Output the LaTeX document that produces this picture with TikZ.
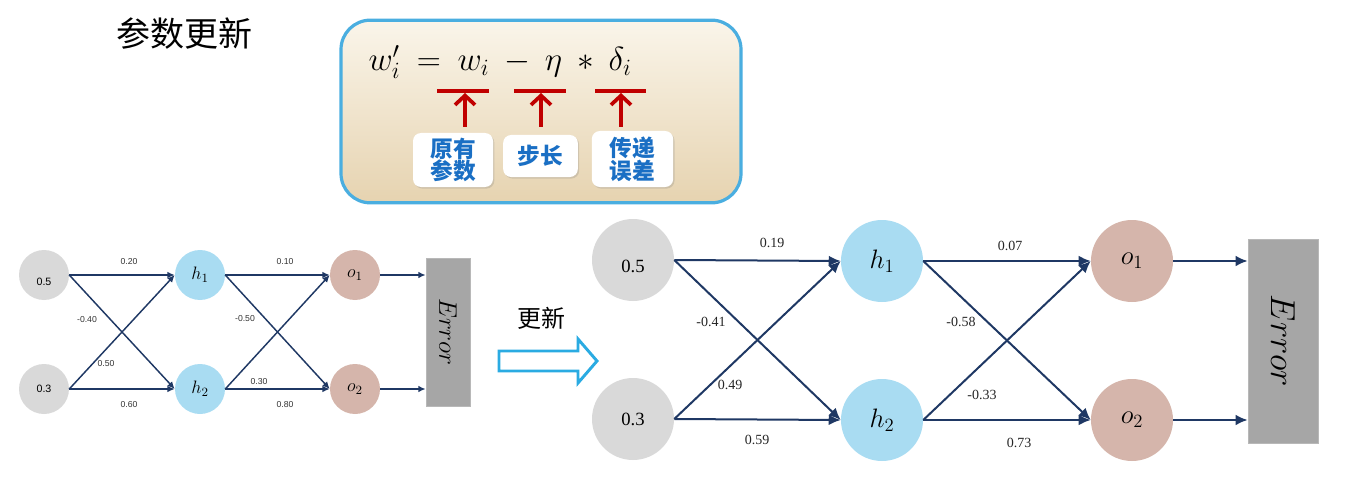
\RequirePackage{fix-cm}
\documentclass[tikz,border=0pt]{standalone}
\usepackage{fontspec}
\setsansfont{Liberation Sans}
\newfontfamily\cjk{Noto Sans CJK SC}
\newfontfamily\serifnum{Liberation Serif}
\usetikzlibrary{arrows.meta,shadows}
\definecolor{navy}{HTML}{1F3864}
\definecolor{gin}{HTML}{D9D9D9}
\definecolor{hid}{HTML}{A9DCF2}
\definecolor{outc}{HTML}{D5B5AB}
\definecolor{errc}{HTML}{A6A6A6}
\definecolor{boxborder}{HTML}{4AAEE0}
\definecolor{cyanA}{HTML}{2AABE2}
\definecolor{redc}{HTML}{C00000}
\definecolor{lblue}{HTML}{1A6FC4}
\definecolor{creamtop}{HTML}{FAF5EA}
\definecolor{tanbot}{HTML}{E6D3B0}
\tikzset{
  smallnode/.style={circle, minimum size=37.5pt, inner sep=0pt},
  bignode/.style={circle, minimum size=61.5pt, inner sep=0pt},
  edgeS/.style={draw=navy, line width=1.1pt, -{Latex[length=5.5pt,width=5pt]}},
  edgeB/.style={draw=navy, line width=1.5pt, -{Latex[length=9pt,width=8pt]}},
  wS/.style={font=\sffamily\fontsize{6.5}{7}\selectfont, text=black!80, inner sep=0pt},
  wB/.style={font=\serifnum\fontsize{10.5}{12}\selectfont, text=black!85, inner sep=0pt},
  errbox/.style={fill=errc, draw=errc!80, line width=0.5pt, rotate=-90, inner sep=0pt},
  lbox/.style={fill=white, rounded corners=6pt, drop shadow={opacity=0.25, shadow xshift=1pt, shadow yshift=-1.2pt}, font=\cjk\bfseries\fontsize{17}{20}\selectfont, text=lblue, align=center, inner sep=0pt},
  redbar/.style={draw=redc, line width=2.6pt},
  redarr/.style={draw=redc, line width=2.8pt, -{Straight Barb[length=7pt,width=15pt]}},
  mS/.style={font=\fontsize{13.5}{15}\selectfont},
  mB/.style={font=\fontsize{20}{22}\selectfont},
}
\begin{document}
\begin{tikzpicture}[x=0.75pt,y=-0.75pt]
\useasboundingbox (0,0) rectangle (1347,492);
% title
\node (title) at (184,34) {\cjk\fontsize{25.5}{30}\selectfont 参数更新};
% formula box
\node (fbox) at (541,111.5) [draw=boxborder, line width=2.4pt, top color=creamtop, bottom color=tanbot, rounded corners=22pt, minimum width=300pt, minimum height=137pt] {};
\node (formula) at (500,62) {\fontsize{25}{30}\selectfont $w_i' \:=\: w_i \:-\: \eta \:*\: \delta_i$};
\coordinate (b1l) at (437,91); \coordinate (b1r) at (489,91);
\coordinate (b2l) at (514,91); \coordinate (b2r) at (566,91);
\coordinate (b3l) at (595,91); \coordinate (b3r) at (646,91);
\draw[redbar] (b1l) -- (b1r);
\draw[redbar] (b2l) -- (b2r);
\draw[redbar] (b3l) -- (b3r);
\node[lbox, minimum width=60pt, minimum height=40.5pt] (lb1) at (453,160) {原有\\[-3pt]参数};
\node[lbox, minimum width=56pt, minimum height=31.5pt] (lb2) at (540.5,156) {步长};
\node[lbox, minimum width=61pt, minimum height=42pt] (lb3) at (632.5,159) {传递\\[-3pt]误差};
\coordinate (a1s) at (465,127); \coordinate (a1e) at (465,93);
\coordinate (a2s) at (541,127); \coordinate (a2e) at (541,93);
\coordinate (a3s) at (621,127); \coordinate (a3e) at (621,93);
\draw[redarr] (a1s) -- (a1e);
\draw[redarr] (a2s) -- (a2e);
\draw[redarr] (a3s) -- (a3e);

% left network
\node[smallnode, fill=gin, font=\sffamily\fontsize{8}{9}\selectfont] (li1) at (44,275) {\raisebox{-8pt}[0pt][0pt]{0.5}};
\node[smallnode, fill=gin, font=\sffamily\fontsize{8}{9}\selectfont] (li2) at (44,389) {0.3};
\node[smallnode, fill=hid, mS] (lh1) at (200,275) {$h_1$};
\node[smallnode, fill=hid, mS] (lh2) at (200,389) {$h_2$};
\node[smallnode, fill=outc, mS] (lo1) at (355,275) {$o_1$};
\node[smallnode, fill=outc, mS] (lo2) at (355,389) {$o_2$};
\node[errbox, minimum width=111pt, minimum height=33pt, font=\fontsize{19}{20}\selectfont] (lerr) at (448,332) {$Error$};
\draw[edgeS] (li1.east) -- (lh1.west);
\draw[edgeS] (li1.east) -- (lh2.west);
\draw[edgeS] (li2.east) -- (lh1.west);
\draw[edgeS] (li2.east) -- (lh2.west);
\draw[edgeS] (lh1.east) -- (lo1.west);
\draw[edgeS] (lh1.east) -- (lo2.west);
\draw[edgeS] (lh2.east) -- (lo1.west);
\draw[edgeS] (lh2.east) -- (lo2.west);
\draw[edgeS] (lo1.east) -- (lo1.east -| lerr.south);
\draw[edgeS] (lo2.east) -- (lo2.east -| lerr.south);
\node[wS] (lw1) at (129,262) {0.20};
\node[wS] (lw2) at (87,320) {-0.40};
\node[wS] (lw3) at (106,364) {0.50};
\node[wS] (lw4) at (129,405) {0.60};
\node[wS] (lw5) at (285,262) {0.10};
\node[wS] (lw6) at (245,319) {-0.50};
\node[wS] (lw7) at (259,382) {0.30};
\node[wS] (lw8) at (285,405) {0.80};

% update arrow
\node (upd) at (541,318) {\cjk\fontsize{18}{20}\selectfont 更新};
\draw[line width=2.2pt, draw=cyanA, fill=white, line join=miter]
  (499,351) -- (578,351) -- (578,339) -- (597,361) -- (578,383) -- (578,371) -- (499,371) -- cycle;

% right network
\node[bignode, fill=gin, font=\serifnum\fontsize{14}{16}\selectfont] (ri1) at (633,260) {\raisebox{-9.5pt}[0pt][0pt]{0.5}};
\node[bignode, fill=gin, font=\serifnum\fontsize{14}{16}\selectfont] (ri2) at (633,419) {0.3};
\node[bignode, fill=hid, mB] (rh1) at (882,261) {$h_1$};
\node[bignode, fill=hid, mB] (rh2) at (882,420) {$h_2$};
\node[bignode, fill=outc, mB] (ro1) at (1132,261) {$o_1$};
\node[bignode, fill=outc, mB] (ro2) at (1132,420) {$o_2$};
\node[errbox, minimum width=153pt, minimum height=52.5pt, font=\fontsize{26}{28}\selectfont] (rerr) at (1283,341) {$Error$};
\draw[edgeB] (ri1.east) -- (rh1.west);
\draw[edgeB] (ri1.east) -- (rh2.west);
\draw[edgeB] (ri2.east) -- (rh1.west);
\draw[edgeB] (ri2.east) -- (rh2.west);
\draw[edgeB] (rh1.east) -- (ro1.west);
\draw[edgeB] (rh1.east) -- (ro2.west);
\draw[edgeB] (rh2.east) -- (ro1.west);
\draw[edgeB] (rh2.east) -- (ro2.west);
\draw[edgeB] (ro1.east) -- (ro1.east -| rerr.south);
\draw[edgeB] (ro2.east) -- (ro2.east -| rerr.south);
\node[wB] (rw1) at (772,243) {0.19};
\node[wB] (rw2) at (711,322) {-0.41};
\node[wB] (rw3) at (730,385) {0.49};
\node[wB] (rw4) at (757,440) {0.59};
\node[wB] (rw5) at (1010,246) {0.07};
\node[wB] (rw6) at (961,322) {-0.58};
\node[wB] (rw7) at (982,395) {-0.33};
\node[wB] (rw8) at (1019,443) {0.73};
\end{tikzpicture}
\end{document}
